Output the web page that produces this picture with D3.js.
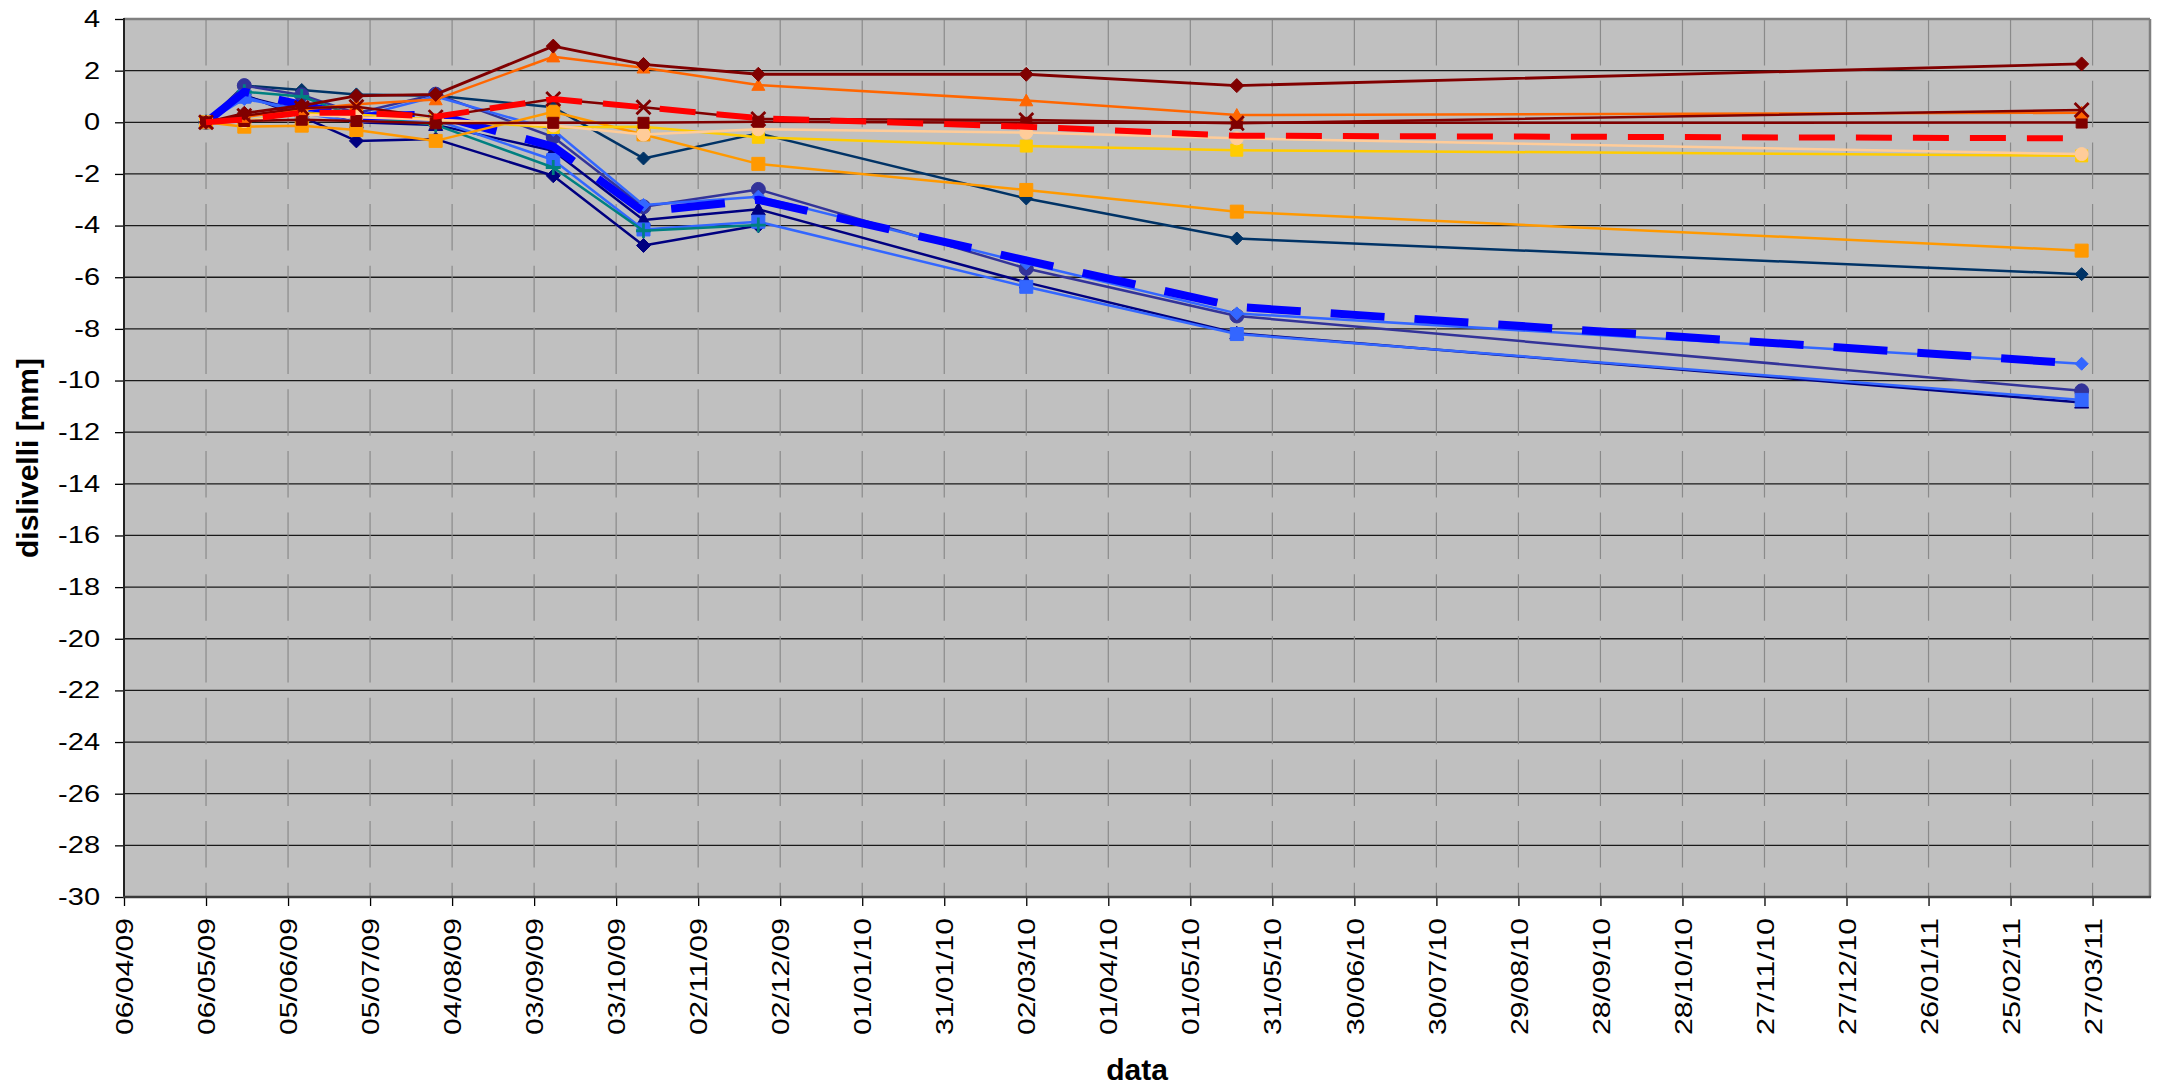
<!DOCTYPE html>
<html>
<head>
<meta charset="utf-8">
<script src="https://cdn.jsdelivr.net/npm/d3@7"></script>
<style>
  html, body { margin: 0; padding: 0; background: #ffffff; }
  svg { display: block; }
</style>
</head>
<body>
<svg id="chart" width="2168" height="1085"></svg>
<script>
// ---- data -------------------------------------------------------------
const surveyDates = ["06/05/09", "20/05/09", "10/06/09", "30/06/09", "29/07/09",
  "10/09/09", "13/10/09", "24/11/09", "02/03/10", "18/05/10", "23/03/11"];

const xTickLabels = ["06/04/09", "06/05/09", "05/06/09", "05/07/09", "04/08/09",
  "03/09/09", "03/10/09", "02/11/09", "02/12/09", "01/01/10", "31/01/10",
  "02/03/10", "01/04/10", "01/05/10", "31/05/10", "30/06/10", "30/07/10",
  "29/08/10", "28/09/10", "28/10/10", "27/11/10", "27/12/10", "26/01/11",
  "25/02/11", "27/03/11"];
const xDomain = ["06/04/09", "17/04/11"];

const yTicks = [4, 2, 0, -2, -4, -6, -8, -10, -12, -14, -16, -18, -20,
  -22, -24, -26, -28, -30];
const yDomain = [-30, 4];

// benchmarks, warm colours
const ptDarkRedDiamond = [0, 0.35, 0.65, 1.02, 1.08, 2.95, 2.24, 1.86, 1.86, 1.42, 2.26];
const ptOrangeTriangle = [0, 0.20, 0.50, 0.70, 0.88, 2.54, 2.11, 1.44, 0.84, 0.28, 0.37];
const ptDarkRedSquare  = [0, 0.05, 0.10, 0.05, -0.04, -0.02, -0.02, 0.02, -0.02, -0.02, -0.01];
const ptDarkRedCross   = [0, 0.25, 0.55, 0.60, 0.20, 0.90, 0.58, 0.13, 0.09, -0.04, 0.48];
const ptPeachCircle    = [0, 0.05, 0.30, 0.20, 0.10, -0.12, -0.47, -0.27, -0.40, -0.62, -1.23];
const ptYellowSquare   = [0, 0.05, 0.35, 0.30, 0.10, -0.20, -0.17, -0.58, -0.92, -1.08, -1.30];
const ptOrangeSquare   = [0, -0.17, -0.13, -0.30, -0.72, 0.41, -0.47, -1.61, -2.62, -3.46, -4.97];
const meanWarm         = [0, 0.11, 0.37, 0.37, 0.22, 0.90, 0.58, 0.16, -0.17, -0.52, -0.62];

// benchmarks, cool colours
const ptSlateDiamond   = [0, 1.42, 1.25, 1.08, 1.03, 0.58, -1.40, -0.43, -2.95, -4.50, -5.88];
const ptNavyDiamond    = [0, 1.06, 0.22, -0.72, -0.65, -2.07, -4.77, -4.00, null, null, null];
const ptNavyTriangle   = [0, 1.00, 0.45, 0.00, -0.10, -1.10, -3.78, -3.37, -6.20, -8.17, -10.85];
const ptPurpleCircle   = [0, 1.42, 1.06, 0.35, 1.09, -0.57, -3.27, -2.60, -5.66, -7.50, -10.40];
const ptBlueSquare     = [0, 0.99, 0.35, 0.02, 0.09, -1.46, -4.15, -3.85, -6.37, -8.20, -10.75];
const ptTealPlus       = [0, 1.18, 1.00, 0.22, -0.10, -1.75, -4.20, -3.98, null, null, null];
const ptBlueDiamond    = [0, 0.90, 0.50, 0.20, 1.00, -0.30, -3.20, -2.88, -5.46, -7.40, -9.35];
const meanCool         = [0, 1.18, 0.67, 0.22, 0.30, -0.94, -3.46, -3.00, -5.35, -7.15, -9.35];

// drawing order and styles
const seriesList = [
  { values: ptSlateDiamond, color: "#003366", marker: "diamond", size: 6.5, width: 2.5 },
  { values: ptNavyDiamond, color: "#000080", marker: "diamond", size: 7, width: 2.5 },
  { values: ptNavyTriangle, color: "#000080", marker: "triangle", size: 7, width: 2.5 },
  { values: ptPurpleCircle, color: "#333399", marker: "circle", size: 7, width: 2.5 },
  { values: ptBlueSquare, color: "#3366FF", marker: "square", size: 6.5, width: 2.5 },
  { values: ptTealPlus, color: "#008080", marker: "plus", size: 7.5, width: 2.5 },
  { values: ptBlueDiamond, color: "#3366FF", marker: "diamond", size: 6.5, width: 2.5 },
  { values: meanCool, color: "#0000FF", marker: null, width: 8, dash: "54,30" },
  { values: ptOrangeSquare, color: "#FF9900", marker: "square", size: 6.5, width: 2.5 },
  { values: ptYellowSquare, color: "#FFCC00", marker: "square", size: 6, width: 2.5 },
  { values: ptPeachCircle, color: "#FFCC99", marker: "circle", size: 6.5, width: 2.5 },
  { values: ptDarkRedSquare, color: "#800000", marker: "square", size: 5.5, width: 2.5 },
  { values: ptOrangeTriangle, color: "#FF6600", marker: "triangle", size: 6.5, width: 2.5 },
  { values: ptDarkRedDiamond, color: "#800000", marker: "diamond", size: 7, width: 2.8 },
  { values: ptDarkRedCross, color: "#800000", marker: "cross", size: 7, width: 2.5 },
  { values: meanWarm, color: "#FF0000", marker: null, width: 6, dash: "36,21" }
];

// ---- layout -----------------------------------------------------------
const FONT = "'Liberation Sans', Arial, Helvetica, sans-serif";
const plot = { left: 124, right: 2150, top: 19, bottom: 897 };
const parseDay = d3.utcParse("%d/%m/%y");
const formatDay = d3.utcFormat("%d/%m/%y");

const svg = d3.select("#chart");

const x = d3.scaleUtc().domain(xDomain.map(parseDay)).range([plot.left, plot.right]);
const y = d3.scaleLinear().domain(yDomain).range([plot.bottom, plot.top]);
const xTicks = xTickLabels.map(parseDay);
const dates = surveyDates.map(parseDay);

// plot area
svg.append("rect")
  .attr("x", plot.left).attr("y", plot.top)
  .attr("width", plot.right - plot.left).attr("height", plot.bottom - plot.top)
  .attr("fill", "#C0C0C0");

// horizontal grid
svg.append("g").selectAll("line")
  .data(yTicks.filter(v => v > yDomain[0] && v < yDomain[1]))
  .join("line")
  .attr("x1", plot.left).attr("x2", plot.right)
  .attr("y1", d => y(d)).attr("y2", d => y(d))
  .attr("stroke", "#1a1a1a").attr("stroke-width", 1.3);

// vertical grid (broken lines)
svg.append("g").selectAll("line")
  .data(xTicks.slice(1))
  .join("line")
  .attr("x1", d => x(d)).attr("x2", d => x(d))
  .attr("y1", plot.top).attr("y2", plot.bottom)
  .attr("stroke", "#8a8a8a").attr("stroke-width", 1.2)
  .attr("stroke-dasharray", "46.5,15.2");

// frame
svg.append("line").attr("x1", plot.left).attr("x2", plot.right)
  .attr("y1", plot.top).attr("y2", plot.top)
  .attr("stroke", "#808080").attr("stroke-width", 2.5);
svg.append("line").attr("x1", plot.right).attr("x2", plot.right)
  .attr("y1", plot.top).attr("y2", plot.bottom)
  .attr("stroke", "#808080").attr("stroke-width", 2.5);

// axes
const yAxis = svg.append("g")
  .attr("transform", `translate(${plot.left},0)`)
  .call(d3.axisLeft(y).tickValues(yTicks).tickSize(9).tickSizeOuter(0)
    .tickPadding(15).tickFormat(d => String(d)));
yAxis.select(".domain").remove();
yAxis.selectAll(".tick line").attr("stroke", "#000").attr("stroke-width", 1.3);
yAxis.attr("font-family", FONT).attr("font-size", 23);
yAxis.selectAll(".tick text").attr("fill", "#000").each(function () {
  const len = this.getComputedTextLength();
  d3.select(this).attr("textLength", len * 1.26).attr("lengthAdjust", "spacingAndGlyphs");
});

const xAxis = svg.append("g")
  .attr("transform", `translate(0,${plot.bottom})`)
  .call(d3.axisBottom(x).tickValues(xTicks).tickSize(9).tickSizeOuter(0)
    .tickFormat(formatDay));
xAxis.select(".domain").remove();
xAxis.selectAll(".tick line").attr("stroke", "#000").attr("stroke-width", 1.3);
xAxis.attr("font-family", FONT).attr("font-size", 24);
xAxis.selectAll(".tick text")
  .attr("fill", "#000")
  .attr("transform", "rotate(-90)")
  .attr("x", -21).attr("y", 0).attr("dy", "0.36em")
  .attr("text-anchor", "end")
  .attr("textLength", 117).attr("lengthAdjust", "spacingAndGlyphs");

svg.append("line").attr("x1", plot.left).attr("x2", plot.left)
  .attr("y1", plot.top - 1).attr("y2", plot.bottom + 1)
  .attr("stroke", "#222").attr("stroke-width", 2);
svg.append("line").attr("x1", plot.left - 1).attr("x2", plot.right + 1)
  .attr("y1", plot.bottom).attr("y2", plot.bottom)
  .attr("stroke", "#3a3a3a").attr("stroke-width", 2.5);

// ---- series -------------------------------------------------------------
function markerPath(type, s) {
  switch (type) {
    case "diamond": return `M0,${-s}L${s},0L0,${s}L${-s},0Z`;
    case "square": return `M${-s},${-s}H${s}V${s}H${-s}Z`;
    case "triangle": return `M0,${-s}L${s},${s * 0.8}L${-s},${s * 0.8}Z`;
    case "circle": return `M${s},0A${s},${s} 0 1 1 ${-s},0A${s},${s} 0 1 1 ${s},0Z`;
    case "cross": return `M${-s},${-s}L${s},${s}M${-s},${s}L${s},${-s}`;
    case "plus": return `M${-s},0H${s}M0,${-s}V${s}`;
  }
  return "";
}

const line = d3.line()
  .defined(d => d.v != null)
  .x(d => x(d.date))
  .y(d => y(d.v));

const seriesLayer = svg.append("g");
seriesList.forEach(s => {
  const pts = s.values.map((v, i) => ({ date: dates[i], v }));
  const g = seriesLayer.append("g");
  g.append("path")
    .attr("d", line(pts))
    .attr("fill", "none")
    .attr("stroke", s.color)
    .attr("stroke-width", s.width)
    .attr("stroke-linejoin", "round")
    .attr("stroke-dasharray", s.dash || null);
  if (s.marker) {
    const open = s.marker === "cross" || s.marker === "plus";
    g.selectAll("path.mk")
      .data(pts.filter(d => d.v != null))
      .join("path")
      .attr("class", "mk")
      .attr("transform", d => `translate(${x(d.date)},${y(d.v)})`)
      .attr("d", markerPath(s.marker, s.size))
      .attr("fill", open ? "none" : s.color)
      .attr("stroke", s.color)
      .attr("stroke-width", open ? 2.8 : 1);
  }
});

// ---- titles -------------------------------------------------------------
svg.append("text")
  .attr("transform", `translate(27,${(plot.top + plot.bottom) / 2}) rotate(-90)`)
  .attr("text-anchor", "middle")
  .attr("dy", "0.36em")
  .attr("font-family", FONT).attr("font-weight", "bold").attr("font-size", 30)
  .text("dislivelli [mm]");

svg.append("text")
  .attr("x", (plot.left + plot.right) / 2).attr("y", 1080)
  .attr("text-anchor", "middle")
  .attr("font-family", FONT).attr("font-weight", "bold").attr("font-size", 30)
  .text("data");
</script>
</body>
</html>
